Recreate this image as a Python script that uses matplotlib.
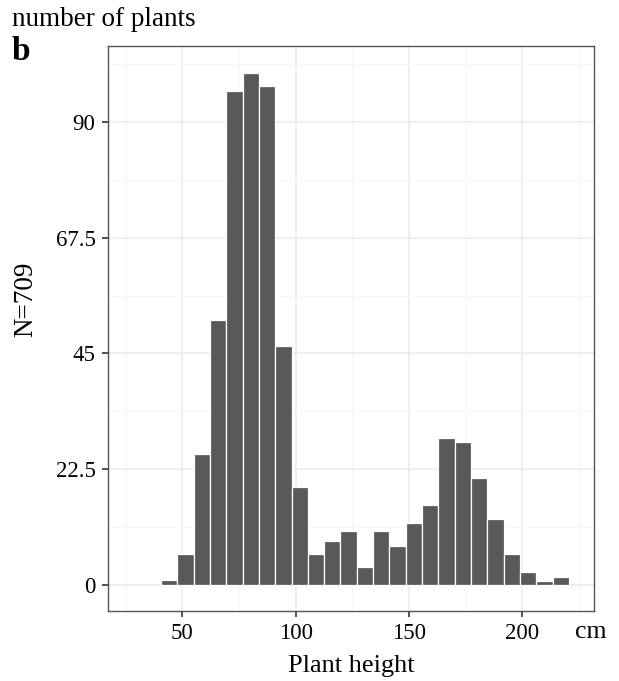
import matplotlib
matplotlib.use("Agg")
import matplotlib.pyplot as plt
from matplotlib.ticker import FixedLocator

plt.rcParams['font.family'] = ['Liberation Serif', 'DejaVu Serif']

bin_centers = [44.2, 51.4, 58.6, 65.8, 73.0, 80.2, 87.4, 94.6, 101.8, 109.0,
               116.2, 123.4, 130.6, 137.8, 145.0, 152.2, 159.4, 166.6, 173.8,
               181.0, 188.2, 195.4, 202.6, 209.8, 217.0]
counts = [1, 6, 25.5, 51.5, 96, 99.5, 97, 46.5, 19, 6, 8.5, 10.5, 3.5, 10.5,
          7.5, 12, 15.5, 28.5, 27.8, 20.8, 12.8, 6, 2.5, 0.8, 1.6]
bin_width = 7.2
x_ticks = [50, 100, 150, 200]
x_minor = [25, 75, 125, 175, 225]
y_ticks = [0, 22.5, 45, 67.5, 90]
y_tick_labels = ["0", "22.5", "45", "67.5", "90"]
y_minor = [11.25, 33.75, 56.25, 78.75, 101.25]

fig = plt.figure(figsize=(6.19, 6.81), dpi=100)
ax = fig.add_axes([0.1745, 0.1032, 0.960 - 0.1745, 0.9329 - 0.1032])

ax.bar(bin_centers, counts, width=bin_width, color="#595959",
       edgecolor="white", linewidth=0.9, zorder=3)

ax.set_xlim(17.2, 231.8)
ax.set_ylim(-5.0, 104.8)

ax.set_xticks(x_ticks)
ax.set_xticklabels([str(t) for t in x_ticks])
ax.xaxis.set_minor_locator(FixedLocator(x_minor))
ax.set_yticks(y_ticks)
ax.set_yticklabels(y_tick_labels)
ax.yaxis.set_minor_locator(FixedLocator(y_minor))

ax.grid(True, which="major", color="#ebebeb", linewidth=1.1, zorder=0)
ax.grid(True, which="minor", color="#f4f4f4", linewidth=0.6, zorder=0)
ax.set_axisbelow(True)

for s in ax.spines.values():
    s.set_color("#555555")
    s.set_linewidth(1.0)

ax.tick_params(which="major", length=4, width=1.2, color="#333333",
               labelsize=16.5, labelcolor="black", pad=5)
ax.tick_params(which="minor", length=0)

ax.set_xlabel("Plant height", fontsize=19, labelpad=8)
fig.text(0.042, 0.561, "N=709", fontsize=19.5, rotation=90,
         ha="center", va="center")

fig.text(0.0195, 0.971, "number of plants", fontsize=19.5, ha="left", va="center")
fig.text(0.018, 0.925, "b", fontsize=24, fontweight="bold", ha="left", va="center")
fig.text(0.955, 0.072, "cm", fontsize=18.5, ha="center", va="center")

fig.savefig("out.png", dpi=100)
